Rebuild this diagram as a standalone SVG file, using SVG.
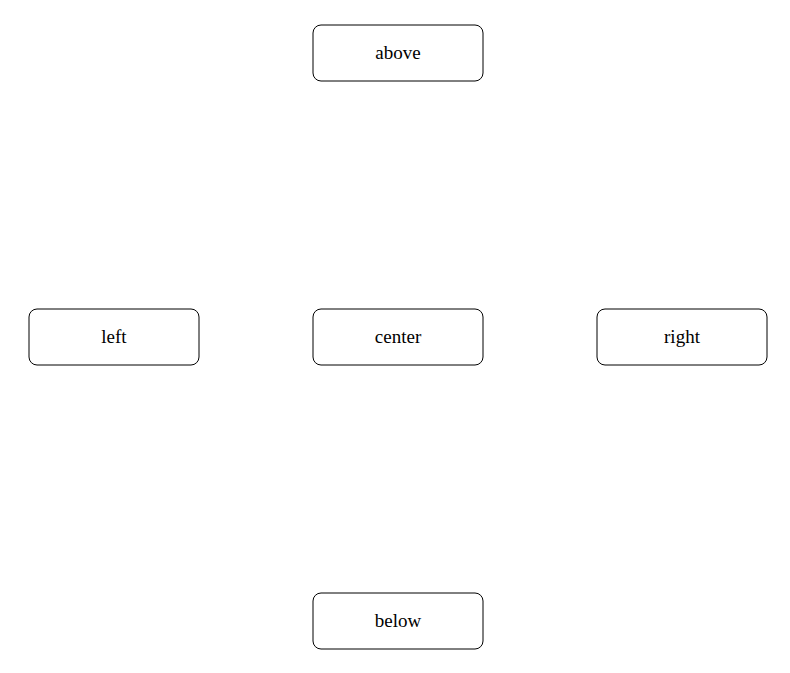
<svg xmlns="http://www.w3.org/2000/svg" width="790" height="673" viewBox="0 0 790 673">
<style>
.box{fill:#fff;stroke:#000;stroke-width:1}
.lbl{font-family:"Liberation Serif","DejaVu Serif",serif;font-size:19px;fill:#000;text-anchor:middle;dominant-baseline:central}
</style>
<rect width="790" height="673" fill="#fff"/>
<g id="connectors"></g>
<g id="above"><rect class="box" x="313" y="25" width="170" height="56" rx="8"/><text class="lbl" x="398" y="52">above</text></g>
<g id="left"><rect class="box" x="29" y="309" width="170" height="56" rx="8"/><text class="lbl" x="114" y="336">left</text></g>
<g id="center"><rect class="box" x="313" y="309" width="170" height="56" rx="8"/><text class="lbl" x="398" y="336">center</text></g>
<g id="right"><rect class="box" x="597" y="309" width="170" height="56" rx="8"/><text class="lbl" x="682" y="336">right</text></g>
<g id="below"><rect class="box" x="313" y="593" width="170" height="56" rx="8"/><text class="lbl" x="398" y="620">below</text></g>
</svg>
